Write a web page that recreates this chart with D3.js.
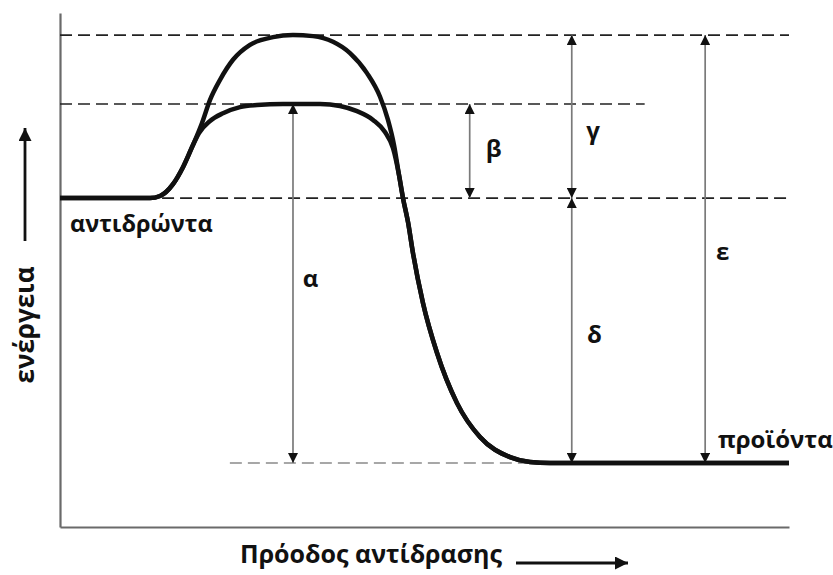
<!DOCTYPE html>
<html>
<head>
<meta charset="utf-8">
<script src="https://cdn.jsdelivr.net/npm/d3@7"></script>
<style>
  html, body { margin: 0; padding: 0; background: #fff; }
  svg { display: block; }
  text { font-family: "Open Sans", "Noto Sans", sans-serif; font-weight: 700; fill: #111; }
</style>
</head>
<body>
<svg id="chart" width="833" height="575"></svg>
<script>
// ---- Data (progress 0-100, energy 0-100) ----
const levelNames = ["uncatalyzedPeak", "catalyzedPeak", "reactants", "products"];
const levelValues = [95.7, 82.3, 64.0, 12.45];

// uncatalyzed path
const uncatProgress = [0, 12.35, 13.72, 15.50, 16.87, 18.24, 19.48, 20.58, 21.95, 23.73, 26.06, 29.22, 31.96, 34.71, 37.45, 39.78, 42.11, 43.90, 44.99, 45.82, 46.50, 47.05, 47.74, 48.42, 49.79, 51.71, 54.46, 57.61, 61.73, 64.47, 67.22, 100];
const uncatEnergy   = [64.0, 64.0, 64.4, 66.7, 70.0, 74.3, 78.6, 83.1, 87.0, 90.9, 93.8, 95.3, 95.7, 95.5, 94.4, 92.2, 88.3, 83.7, 79.2, 74.3, 68.5, 64.0, 59.3, 53.3, 43.6, 33.9, 24.1, 17.5, 13.6, 12.65, 12.45, 12.45];

// catalyzed path
const catProgress = [0, 12.35, 13.72, 15.50, 16.87, 18.24, 19.07, 20.58, 22.36, 24.69, 27.02, 30.59, 35.67, 38.41, 40.74, 42.94, 44.58, 45.68, 46.50, 47.05, 47.74, 48.42, 49.79, 51.71, 54.46, 57.61, 61.73, 64.47, 67.22, 100];
const catEnergy   = [64.0, 64.0, 64.4, 66.7, 70.0, 74.3, 76.65, 79.0, 80.5, 81.7, 82.1, 82.3, 82.3, 81.9, 80.9, 79.2, 76.85, 73.7, 68.5, 64.0, 59.3, 53.3, 43.6, 33.9, 24.1, 17.5, 13.6, 12.65, 12.45, 12.45];

// dashed reference lines: [level index, start progress, end progress]
const dashLevel = [0, 1, 2, 3];
const dashStart = [0, 0, 14.0, 23.3];
const dashEnd   = [100, 80.2, 100, 64.0];

// measurement arrows
const arrowLabels = ["α", "β", "γ", "δ", "ε"];
const arrowProgress = [31.96, 56.2, 70.2, 70.2, 88.5];
const arrowFrom = [82.3, 82.3, 95.7, 64.0, 95.7];
const arrowTo   = [12.45, 64.0, 64.0, 12.45, 12.45];
const arrowLabelProgress = [33.3, 58.4, 72.2, 72.3, 90.0];
const arrowLabelEnergy   = [46.6, 71.9, 75.5, 35.8, 52.0];

const reactantLabel = "αντιδρώντα";
const productLabel = "προϊόντα";
const xTitle = "Πρόοδος αντίδρασης";
const yTitle = "ενέργεια";

// ---- Layout ----
const svg = d3.select("#chart");
const x = d3.scaleLinear().domain([0, 100]).range([60, 789]);
const y = d3.scaleLinear().domain([0, 100]).range([527, 13]);

const defs = svg.append("defs");
function marker(id, w, h) {
  defs.append("marker")
    .attr("id", id)
    .attr("viewBox", "0 0 10 10")
    .attr("refX", 10).attr("refY", 5)
    .attr("markerUnits", "userSpaceOnUse")
    .attr("markerWidth", w).attr("markerHeight", h)
    .attr("orient", "auto-start-reverse")
    .append("path").attr("d", "M0,0 L10,5 L0,10 Z").attr("fill", "#111");
}
marker("ah", 13, 10);
marker("ahBig", 16, 13);

// axes (no ticks)
const yAxis = d3.axisLeft(y).tickValues([]).tickSizeOuter(0);
const xAxis = d3.axisBottom(x).tickValues([]).tickSizeOuter(0);
svg.append("g").attr("transform", `translate(${x(0)},0)`).call(yAxis)
  .select(".domain").attr("stroke", "#6a6a6a").attr("stroke-width", 2.2);
svg.append("g").attr("transform", `translate(0,${y(0)})`).call(xAxis)
  .select(".domain").attr("stroke", "#6a6a6a").attr("stroke-width", 2.2);

// dashed lines
dashLevel.forEach((li, i) => {
  svg.append("line")
    .attr("x1", x(dashStart[i])).attr("x2", x(dashEnd[i]))
    .attr("y1", y(levelValues[li])).attr("y2", y(levelValues[li]))
    .attr("stroke", li === 3 ? "#8a8a8a" : "#222")
    .attr("stroke-width", 1.7)
    .attr("stroke-dasharray", "12,6");
});

// arrows
arrowLabels.forEach((lab, i) => {
  svg.append("line")
    .attr("x1", x(arrowProgress[i])).attr("x2", x(arrowProgress[i]))
    .attr("y1", y(arrowFrom[i])).attr("y2", y(arrowTo[i]))
    .attr("stroke", "#7a7a7a").attr("stroke-width", 1.7)
    .attr("marker-start", "url(#ah)").attr("marker-end", "url(#ah)");
  svg.append("text")
    .attr("x", x(arrowLabelProgress[i])).attr("y", y(arrowLabelEnergy[i]))
    .attr("font-size", 24)
    .text(lab);
});

// curves
const line = d3.line().x(d => x(d[0])).y(d => y(d[1])).curve(d3.curveMonotoneX);
svg.append("path")
  .attr("d", line(catProgress.map((p, i) => [p, catEnergy[i]])))
  .attr("fill", "none").attr("stroke", "#111").attr("stroke-width", 4.5)
  .attr("stroke-linejoin", "round");
svg.append("path")
  .attr("d", line(uncatProgress.map((p, i) => [p, uncatEnergy[i]])))
  .attr("fill", "none").attr("stroke", "#111").attr("stroke-width", 4.5)
  .attr("stroke-linejoin", "round");

// labels
svg.append("text").attr("x", 70).attr("y", 232).attr("font-size", 23.5).text(reactantLabel);
svg.append("text").attr("x", 718).attr("y", 448).attr("font-size", 24).text(productLabel);

// axis titles
svg.append("text").attr("x", 371).attr("y", 563).attr("text-anchor", "middle")
  .attr("font-size", 25).text(xTitle);
svg.append("line").attr("x1", 516).attr("x2", 628).attr("y1", 563).attr("y2", 563)
  .attr("stroke", "#111").attr("stroke-width", 2.8).attr("marker-end", "url(#ahBig)");

svg.append("text").attr("transform", "translate(34,325) rotate(-90)")
  .attr("text-anchor", "middle").attr("font-size", 26).text(yTitle);
svg.append("line").attr("x1", 25).attr("x2", 25).attr("y1", 241).attr("y2", 128)
  .attr("stroke", "#111").attr("stroke-width", 2.8).attr("marker-end", "url(#ahBig)");
</script>
</body>
</html>
